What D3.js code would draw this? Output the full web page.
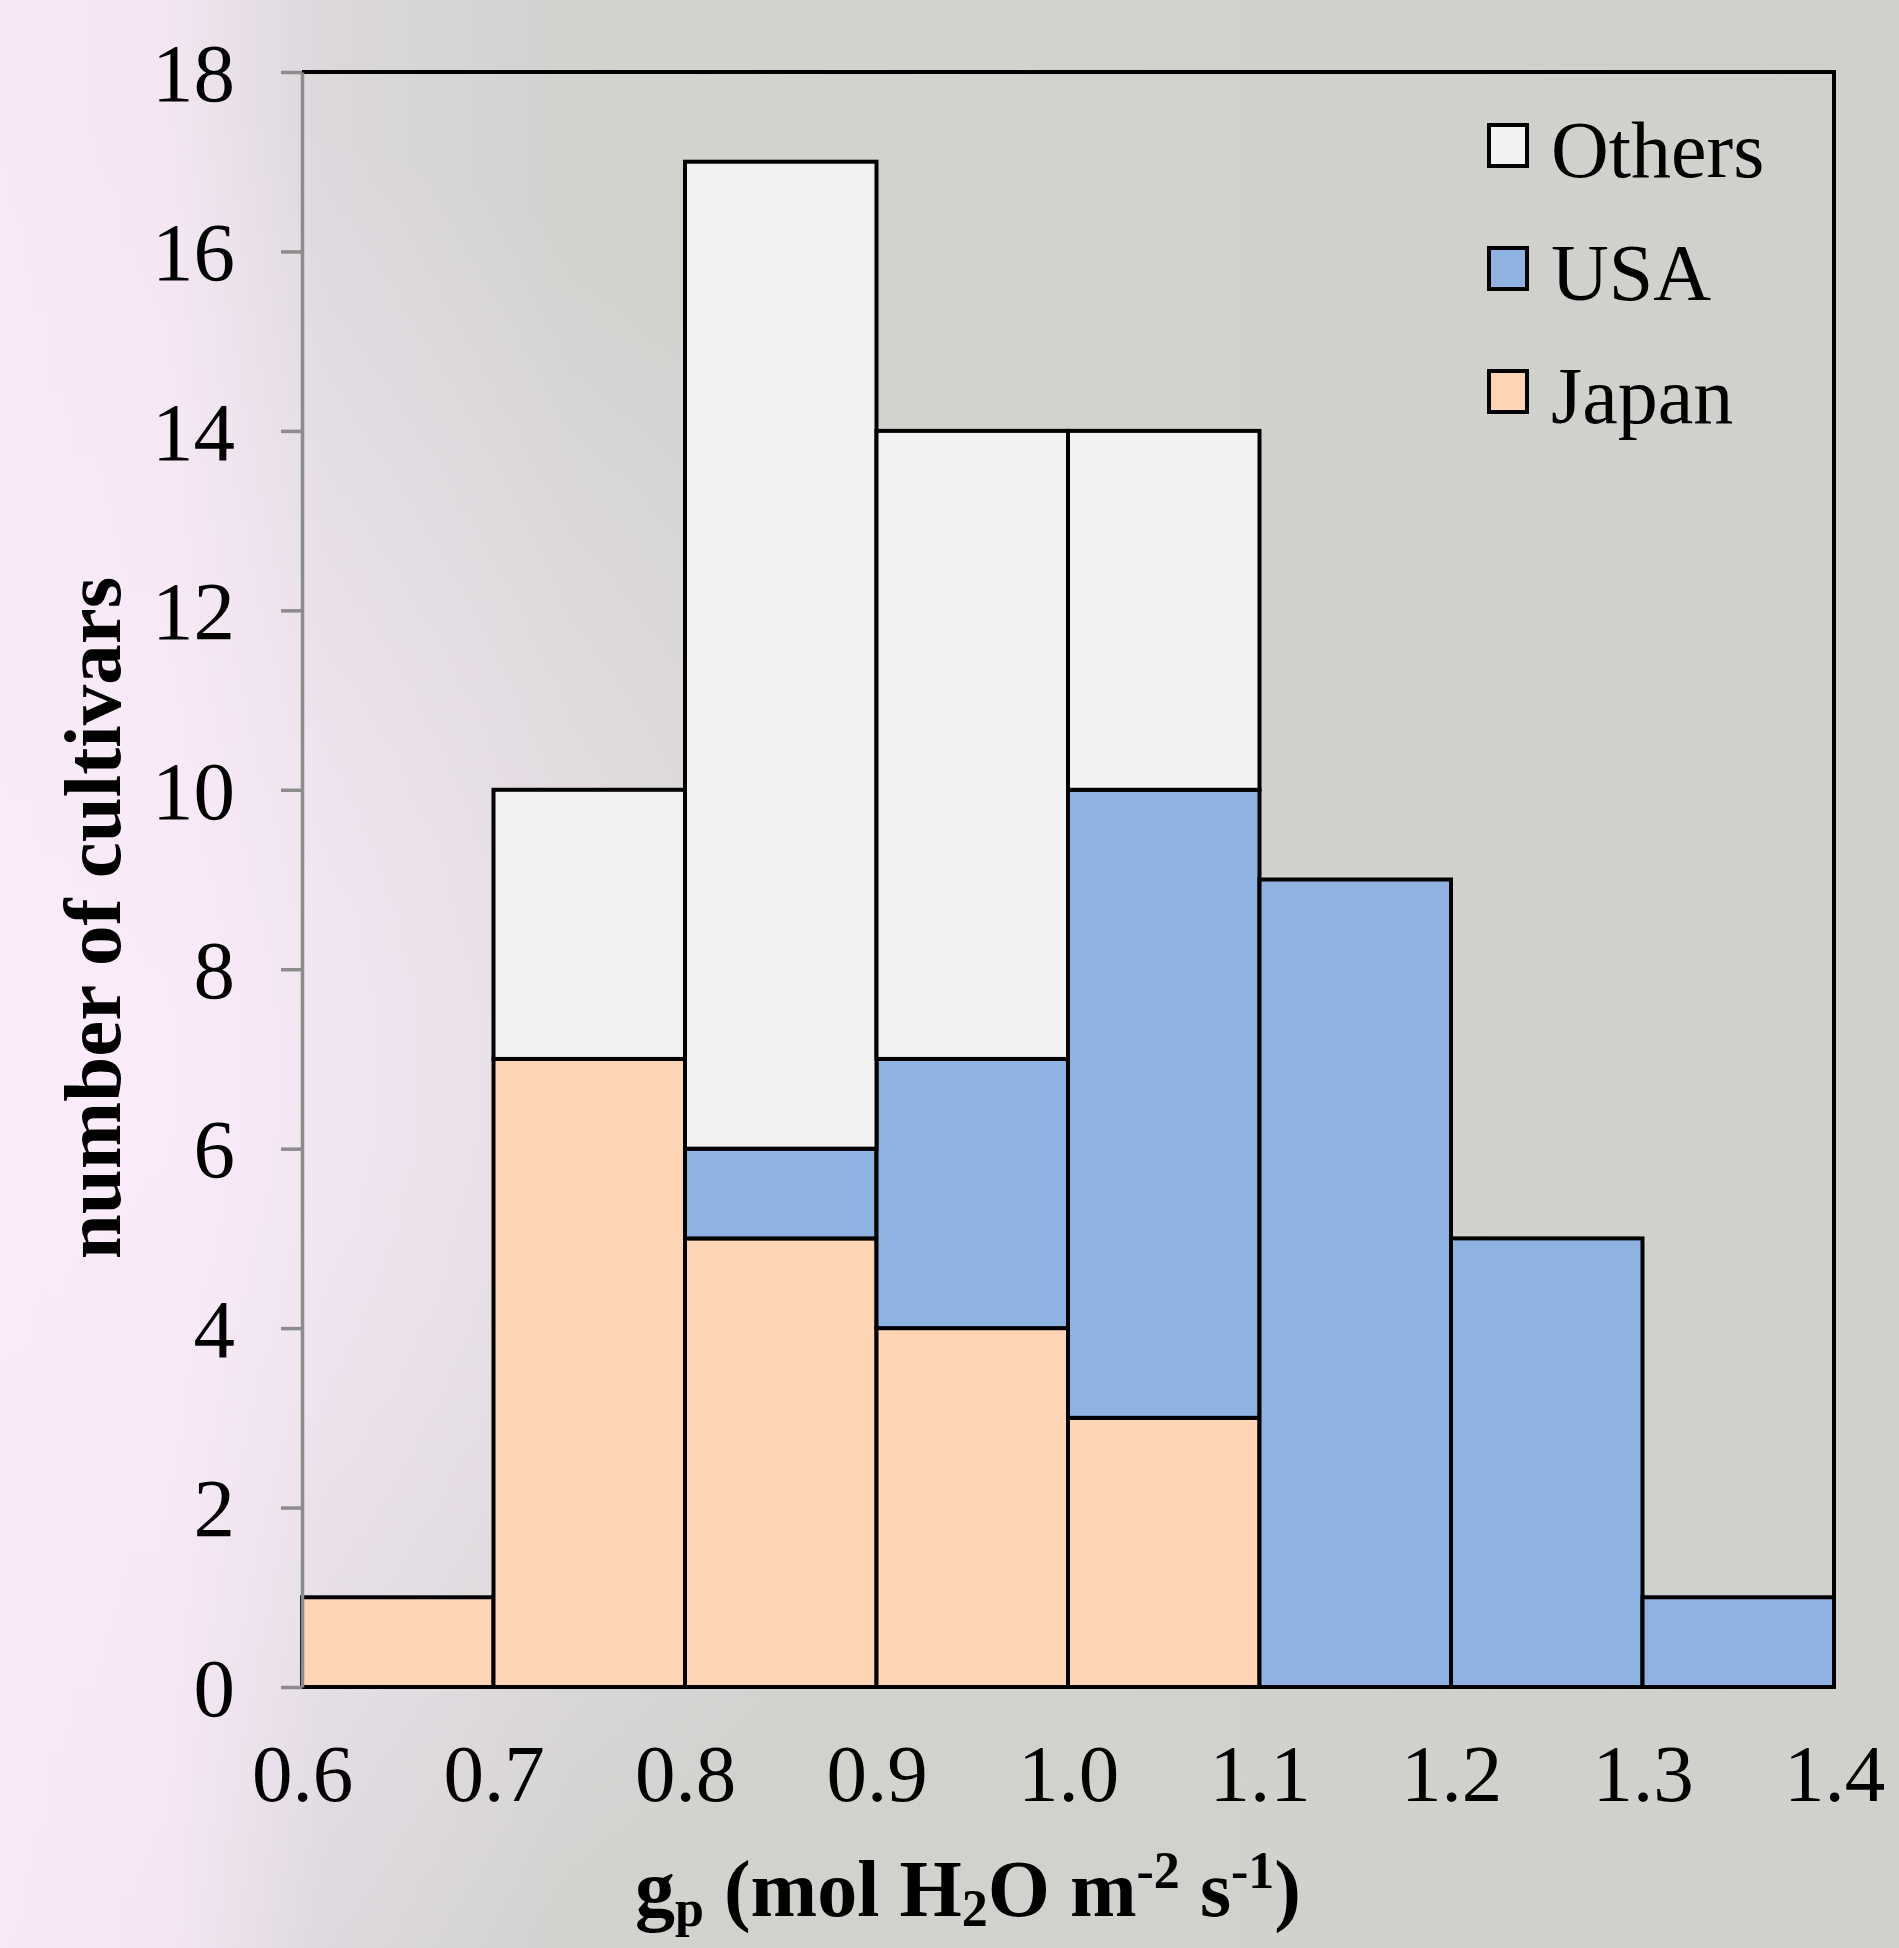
<!DOCTYPE html>
<html>
<head>
<meta charset="utf-8">
<script src="https://cdn.jsdelivr.net/npm/d3@7"></script>
<style>
  html, body { margin: 0; padding: 0; }
  svg { display: block; font-family: "Liberation Serif", "Times New Roman", serif; }
</style>
</head>
<body>
<svg id="chart"></svg>
<script>
// histogram of cultivars by g_p bin, stacked by origin
const binStarts = [0.6, 0.7, 0.8, 0.9, 1.0, 1.1, 1.2, 1.3];
const binWidth = 0.1;
const japan  = [1, 7, 5, 4, 3, 0, 0, 0];
const usa    = [0, 0, 1, 3, 7, 9, 5, 1];
const others = [0, 3, 11, 7, 4, 0, 0, 0];
const seriesNames = ['Japan', 'USA', 'Others'];
const xTicks = [0.6, 0.7, 0.8, 0.9, 1.0, 1.1, 1.2, 1.3, 1.4];
const yTicks = [0, 2, 4, 6, 8, 10, 12, 14, 16, 18];

const width = 1899;
const height = 1948;
const margin = { top: 72, right: 65, bottom: 261, left: 302 };

const colors = { Japan: '#fdd5b4', USA: '#8eb3e3', Others: '#f2f2f2' };

const rows = binStarts.map((b, i) => ({ bin: b, Japan: japan[i], USA: usa[i], Others: others[i] }));
const stacked = d3.stack().keys(seriesNames)(rows);

const xScale = d3.scaleLinear()
                 .domain([0.6, 1.4])
                 .range([margin.left, width - margin.right]);

const yScale = d3.scaleLinear()
                 .domain([0, 18])
                 .range([height - margin.bottom, margin.top]);

const svg = d3.select('#chart')
              .attr('width', width)
              .attr('height', height);

// background
const defs = svg.append('defs');
const bg = defs.append('linearGradient').attr('id', 'bg').attr('x1', 0).attr('x2', 1).attr('y1', 0).attr('y2', 0);
bg.append('stop').attr('offset', '0%').attr('stop-color', '#f7e9f7');
bg.append('stop').attr('offset', '9%').attr('stop-color', '#f3e6f2');
bg.append('stop').attr('offset', '17%').attr('stop-color', '#dcd8dc');
bg.append('stop').attr('offset', '30%').attr('stop-color', '#d2d2cf');
bg.append('stop').attr('offset', '100%').attr('stop-color', '#d0d1cd');

const glow = defs.append('radialGradient').attr('id', 'glow').attr('cx', 0.05).attr('cy', 0.55).attr('r', 0.5);
glow.append('stop').attr('offset', '0%').attr('stop-color', '#fcecfc').attr('stop-opacity', 0.9);
glow.append('stop').attr('offset', '100%').attr('stop-color', '#fcecfc').attr('stop-opacity', 0);

svg.append('rect').attr('width', width).attr('height', height).attr('fill', 'url(#bg)');
svg.append('rect').attr('width', width).attr('height', height).attr('fill', 'url(#glow)');

// bars
svg.append('g')
  .selectAll('g')
  .data(stacked)
  .join('g')
    .attr('fill', (s) => colors[s.key])
  .selectAll('rect')
  .data((s) => s.filter((d) => d[1] > d[0]))
  .join('rect')
    .attr('x', (d) => xScale(d.data.bin))
    .attr('width', (d) => xScale(d.data.bin + binWidth) - xScale(d.data.bin))
    .attr('y', (d) => yScale(d[1]))
    .attr('height', (d) => yScale(d[0]) - yScale(d[1]))
    .attr('stroke', '#000')
    .attr('stroke-width', 4);

// frame: top, right, bottom in black
const x0 = xScale(0.6), x1 = xScale(1.4), y0 = yScale(0), y1 = yScale(18);
svg.append('path')
  .attr('d', `M${x0},${y1}H${x1}V${y0}H${x0}`)
  .attr('fill', 'none')
  .attr('stroke', '#000')
  .attr('stroke-width', 4);

// y axis in grey
const yAxis = d3.axisLeft(yScale)
                .tickValues(yTicks)
                .tickSize(21)
                .tickSizeOuter(0)
                .tickPadding(46);

const yG = svg.append('g')
  .attr('transform', `translate(${x0}, 0)`)
  .call(yAxis);
yG.select('.domain').attr('stroke', '#8c8c8c').attr('stroke-width', 3.5);
yG.selectAll('.tick line').attr('stroke', '#8c8c8c').attr('stroke-width', 3.5);
yG.selectAll('.tick text')
  .attr('font-family', '"Liberation Serif", serif')
  .attr('font-size', 83)
  .attr('fill', '#000')
  .attr('dy', '0.34em');

// x axis labels only
const xAxis = d3.axisBottom(xScale)
                .tickValues(xTicks)
                .tickFormat(d3.format('.1f'))
                .tickSize(0)
                .tickPadding(56);

const xG = svg.append('g')
  .attr('transform', `translate(0, ${y0})`)
  .call(xAxis);
xG.select('.domain').remove();
xG.selectAll('.tick text')
  .attr('font-family', '"Liberation Serif", serif')
  .attr('font-size', 81)
  .attr('fill', '#000');

// legend
const legendItems = ['Others', 'USA', 'Japan'];
const legend = svg.append('g').attr('transform', 'translate(1487, 123)');
const li = legend.selectAll('g')
  .data(legendItems)
  .join('g')
    .attr('transform', (d, i) => `translate(0, ${i * 123})`);
li.append('rect')
  .attr('x', 2).attr('y', 2)
  .attr('width', 38).attr('height', 41)
  .attr('fill', (d) => colors[d])
  .attr('stroke', '#000')
  .attr('stroke-width', 4);
li.append('text')
  .text((d) => d)
  .attr('x', 64)
  .attr('y', 54)
  .attr('font-size', 80)
  .attr('fill', '#000');

// axis titles
svg.append('text')
  .text('number of cultivars')
  .attr('transform', 'translate(120, 918) rotate(-90)')
  .attr('text-anchor', 'middle')
  .attr('font-weight', 'bold')
  .attr('font-size', 81)
  .attr('fill', '#000');

const xt = svg.append('text')
  .attr('x', 968)
  .attr('y', 1916)
  .attr('text-anchor', 'middle')
  .attr('font-weight', 'bold')
  .attr('font-size', 80)
  .attr('fill', '#000');
xt.append('tspan').text('g');
xt.append('tspan').text('p').attr('font-size', 52).attr('dy', 10);
xt.append('tspan').text(' (mol H').attr('dy', -10);
xt.append('tspan').text('2').attr('font-size', 52).attr('dy', 10);
xt.append('tspan').text('O m').attr('dy', -10);
xt.append('tspan').text('-2').attr('font-size', 52).attr('dy', -28);
xt.append('tspan').text(' s').attr('dy', 28);
xt.append('tspan').text('-1').attr('font-size', 52).attr('dy', -28);
xt.append('tspan').text(')').attr('dy', 28);
</script>
</body>
</html>
